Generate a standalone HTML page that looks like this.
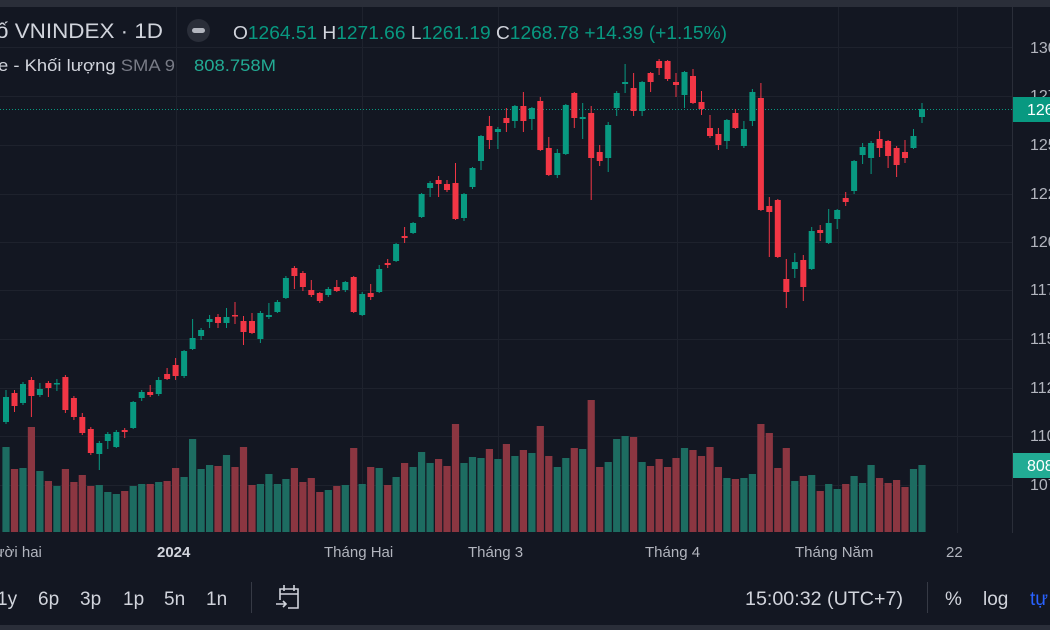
<!DOCTYPE html>
<html><head><meta charset="utf-8">
<style>
html,body{margin:0;padding:0;background:#131722;overflow:hidden}
body{width:1050px;height:630px;position:relative;font-family:"Liberation Sans","Noto Sans CJK SC",sans-serif}
svg{position:absolute;left:0;top:0}
</style></head><body>
<svg id="s" width="1050" height="630" xmlns="http://www.w3.org/2000/svg" font-family="Liberation Sans, sans-serif">
<rect x="0" y="0" width="1050" height="630" fill="#131722"/>
<rect x="0" y="0" width="1050" height="7" fill="#2a2e39"/>
<rect x="0" y="625" width="1050" height="5" fill="#2a2e39"/>
<g id="grid" stroke="#1e222d" stroke-width="1"></g>
<line x1="0" y1="109.5" x2="1012" y2="109.5" stroke="#089981" stroke-width="1" stroke-dasharray="1,2"/>
<g id="vol"></g>
<g id="cdl"></g>
<line x1="1012.5" y1="7" x2="1012.5" y2="533" stroke="#2a2e39"/>
<g fill="#b2b5be" font-size="16">
<text x="1030" y="53">1300.00</text>
<text x="1030" y="101">1275.00</text>
<text x="1030" y="150">1250.00</text>
<text x="1030" y="199">1225.00</text>
<text x="1030" y="247">1200.00</text>
<text x="1030" y="295">1175.00</text>
<text x="1030" y="344">1150.00</text>
<text x="1030" y="393">1125.00</text>
<text x="1030" y="441">1100.00</text>
<text x="1030" y="490">1075.00</text>
</g>
<rect x="1013" y="97" width="40" height="25" fill="#089981"/>
<text x="1027" y="115" fill="#ffffff" font-size="16">1268.78</text>
<rect x="1013" y="453" width="40" height="25" fill="#22ab94"/>
<text x="1027" y="471" fill="#ffffff" font-size="16">808.758M</text>
<!-- header -->
<text x="-4" y="38" fill="#d1d4dc" font-size="21" textLength="167" lengthAdjust="spacingAndGlyphs">ố VNINDEX · 1D</text>
<rect x="187" y="19" width="23" height="23" rx="11.5" fill="#2a2e39"/>
<rect x="192" y="28" width="13" height="5" rx="2.5" fill="#b2b5be"/>
<text x="233" y="39" font-size="18" fill="#d1d4dc" textLength="494" lengthAdjust="spacingAndGlyphs">O<tspan fill="#089981">1264.51</tspan> H<tspan fill="#089981">1271.66</tspan> L<tspan fill="#089981">1261.19</tspan> C<tspan fill="#089981">1268.78</tspan> <tspan fill="#089981">+14.39 (+1.15%)</tspan></text>
<text x="-2" y="71" font-size="17" fill="#d1d4dc" textLength="177" lengthAdjust="spacingAndGlyphs">e - Khối lượng <tspan fill="#787b86">SMA 9</tspan></text>
<text x="194" y="71" font-size="17" fill="#22ab94" textLength="82" lengthAdjust="spacingAndGlyphs">808.758M</text>
<!-- time axis -->
<g fill="#b2b5be" font-size="15">
<text x="-18" y="557">Mười hai</text>
<text x="157" y="557" font-weight="bold" fill="#d1d4dc">2024</text>
<text x="324" y="557">Tháng Hai</text>
<text x="468" y="557">Tháng 3</text>
<text x="645" y="557">Tháng 4</text>
<text x="795" y="557">Tháng Năm</text>
<text x="946" y="557">22</text>
</g>
<!-- toolbar -->
<g fill="#d1d4dc" font-size="19">
<text x="-3" y="605">1y</text>
<text x="38" y="605">6p</text>
<text x="80" y="605">3p</text>
<text x="123" y="605">1p</text>
<text x="164" y="605">5n</text>
<text x="206" y="605">1n</text>
<text x="745" y="605" textLength="158" lengthAdjust="spacingAndGlyphs">15:00:32 (UTC+7)</text>
<text x="945" y="605">%</text>
<text x="983" y="605">log</text>
<text x="1030" y="605" fill="#2962ff">tự</text>
</g>
<line x1="251.5" y1="582" x2="251.5" y2="613" stroke="#363a45"/>
<line x1="927.5" y1="582" x2="927.5" y2="613" stroke="#363a45"/>
<g stroke="#d1d4dc" stroke-width="1.6" fill="none">
<path d="M280 600 V589 H298 V608 H288"/>
<line x1="280" y1="594" x2="298" y2="594"/>
<line x1="284" y1="585" x2="284" y2="591"/>
<line x1="294" y1="585" x2="294" y2="591"/>
<path d="M276 604 H286 M283 601 L286 604 L283 607"/>
</g>
</svg>
<script>
const NS="http://www.w3.org/2000/svg";
function el(p,t,a){const e=document.createElementNS(NS,t);for(const k in a)e.setAttribute(k,a[k]);p.appendChild(e);return e;}
const g=document.getElementById('grid');
[47,96,145,194,242,290,339,388,436,485].forEach(y=>el(g,'line',{x1:0,x2:1012,y1:y+.5,y2:y+.5}));
[176,362,498,677,838,957].forEach(x=>el(g,'line',{x1:x+.5,x2:x+.5,y1:7,y2:533}));
const C=`G 397 422 390 424
R 393 406 390 412
G 384 403 382 405
R 380 396 377 417
G 389 395 383 397
R 383 388 381 397
G 383 384 379 391
R 377 410 375 413
R 398 417 396 420
R 417 433 413 435
R 429 453 427 455
G 443 454 441 470
G 434 441 432 449
G 432 447 430 448
R 430 432 428 438
G 402 428 401 429
G 392 398 390 401
R 392 395 385 397
G 380 394 377 396
R 374 379 368 380
R 365 376 358 380
G 351 376 350 378
G 338 349 319 350
G 330 336 328 340
G 319 322 315 328
R 317 323 314 328
G 317 323 308 328
R 315 316 302 324
R 321 332 316 345
R 321 333 313 334
G 313 339 311 343
G 315 317 303 319
G 302 312 300 313
G 278 298 276 299
R 268 276 266 289
R 273 287 271 291
R 290 295 280 297
R 293 301 292 303
G 289 295 287 297
R 287 291 280 292
G 282 290 281 292
R 277 312 276 313
G 294 315 292 316
R 293 297 284 300
G 269 292 265 293
R 263 265 259 268
G 244 261 243 262
R 236 238 227 243
G 223 233 222 234
G 194 217 193 218
G 183 188 181 197
R 180 184 176 197
R 184 190 180 192
R 183 219 163 220
G 194 218 193 221
G 168 187 167 189
G 136 161 135 170
R 126 140 116 149
G 129 132 127 149
R 118 123 108 132
G 106 121 105 128
R 106 121 92 132
G 108 119 107 130
R 101 150 97 151
R 148 175 137 176
G 153 175 149 178
G 105 154 104 155
R 93 118 92 128
G 117 119 103 139
R 113 158 106 200
R 152 161 145 166
G 125 158 122 172
G 93 108 91 116
G 82 84 64 93
R 88 111 73 116
G 82 111 81 116
R 73 82 72 92
R 61 68 59 75
R 61 79 60 81
R 82 85 73 97
G 72 95 71 108
R 76 103 69 104
R 102 109 91 115
R 128 136 115 138
R 134 145 128 150
G 120 141 119 149
R 113 128 109 129
G 129 146 121 148
G 92 121 89 126
R 98 210 83 211
R 206 212 197 257
R 200 257 199 258
R 279 292 259 308
G 262 269 253 278
R 260 287 255 301
G 231 269 227 270
R 230 233 225 241
G 223 243 209 244
G 210 219 209 229
R 198 202 192 206
G 161 191 160 194
G 147 155 143 164
G 143 158 141 174
R 139 148 131 157
R 141 156 140 168
R 148 165 146 177
R 152 158 140 163
G 136 148 129 149
G 109 117 103 123`.split('\n').map(l=>l.trim().split(' '));
const V=[447,469,468,427,471,481,486,469,482,475,486,485,492,494,491,486,484,484,482,481,468,477,439,469,465,466,455,467,447,485,484,474,484,479,468,482,478,492,490,486,485,448,484,467,468,485,477,463,467,452,463,459,466,424,463,457,458,449,459,444,456,450,453,426,456,467,458,448,449,400,467,462,439,436,437,462,466,459,467,458,448,450,456,447,467,478,479,478,474,424,433,468,448,481,476,475,491,484,489,484,476,483,465,478,483,480,487,469,465];
const vg=document.getElementById('vol'),cg=document.getElementById('cdl');
const n=C.length, step=916/(n-1);
C.forEach((c,i)=>{
 const x=6+i*step, g=c[0]==='G';
 const col=g?'#089981':'#f23645';
 const vcol=g?'#1d6c61':'#8b3641';
 const vt=V[i]!==undefined?V[i]:480;
 el(vg,'rect',{x:(x-3.6).toFixed(1),y:vt,width:7.2,height:532-vt,fill:vcol});
 const bt=+c[1],bb=+c[2],wt=+c[3],wb=+c[4];
 el(cg,'rect',{x:(x-0.5).toFixed(1),y:wt,width:1,height:Math.max(1,wb-wt),fill:col});
 el(cg,'rect',{x:(x-3).toFixed(1),y:bt,width:6,height:Math.max(1.5,bb-bt),fill:col});
});
</script>
</body></html>
